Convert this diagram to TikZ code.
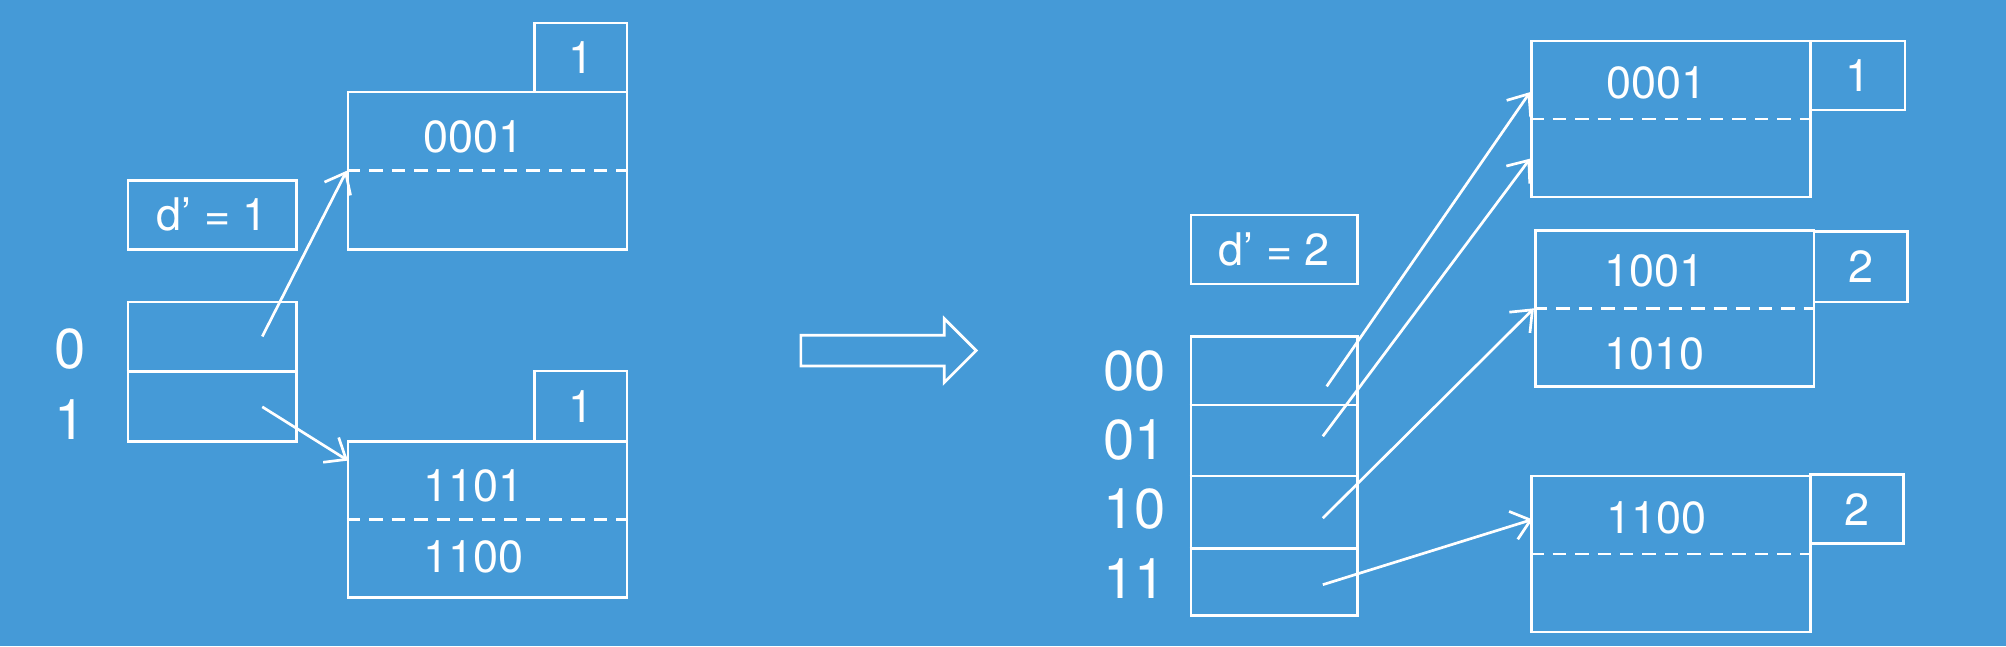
\documentclass[tikz,border=0pt]{standalone}
\usepackage{fontspec}
\setmainfont{TeX Gyre Heros}
\usetikzlibrary{arrows.meta,calc}
\definecolor{bg}{RGB}{69,154,215}
\begin{document}
\begin{tikzpicture}[x=0.02cm,y=-0.02cm,
  box/.style={draw=white, line width=1.2pt, inner sep=0pt, text=white, font=\fontsize{20}{24}\selectfont},
  txt/.style={text=white, inner sep=0pt, font=\fontsize{20}{24}\selectfont},
  big/.style={text=white, inner sep=0pt, font=\fontsize{25}{30}\selectfont},
  sep/.style={draw=white, line width=1.2pt},
  dsep/.style={draw=white, line width=1.2pt, dash pattern=on 6pt off 4pt},
  conn/.style={draw=white, line width=1.2pt, -{Straight Barb[length=8pt,width=13pt]}}]
\fill[bg] (0,0) rectangle (1568,505);
\useasboundingbox (0,0) rectangle (1568,505);

% ---------- left ----------
\node[box, minimum width=1.44cm, minimum height=1.08cm] (l1) at (454,45) {1};
\node[box, minimum width=4.36cm, minimum height=2.46cm] (b1) at (381,133.5) {};
\draw[dsep] (b1.west) -- (b1.east);
\node[txt] (t1) at (370,107) {0001};

\node[box, minimum width=2.64cm, minimum height=1.08cm] (d1) at (166,168) {d’ = 1};

\node[box, minimum width=2.64cm, minimum height=2.18cm] (dirL) at (166,290.5) {};
\draw[sep] (dirL.west) -- (dirL.east);
\node[big] (k0) at (55,273) {0};
\node[big] (k1) at (55,328) {1};

\node[box, minimum width=1.44cm, minimum height=1.1cm] (l2) at (454,317.5) {1};
\node[box, minimum width=4.36cm, minimum height=2.44cm] (b2) at (381,406) {};
\draw[dsep] (b2.west) -- (b2.east);
\node[txt] (t2) at (370,380) {1101};
\node[txt] (t3) at (370,435) {1100};

\coordinate (s0) at (205,263);
\coordinate (s1) at (205,318);
\coordinate (e1) at (272,360);
\draw[conn] (s0) -- (b1.west);
\draw[conn] (s1) -- (e1);

% ---------- big arrow ----------
\draw[white, line width=1.2pt, line join=miter]
  (626,262) -- (738,262) -- (738,249) -- (763,274) -- (738,299) -- (738,286) -- (626,286) -- cycle;

% ---------- right ----------
\node[box, minimum width=2.6cm, minimum height=1.08cm] (d2) at (996,195) {d’ = 2};

\node[box, minimum width=2.6cm, minimum height=4.36cm] (dirR) at (996,372) {};
\draw[sep] ($(dirR.north west)!0.248!(dirR.south west)$) -- ($(dirR.north east)!0.248!(dirR.south east)$);
\draw[sep] (dirR.west) -- (dirR.east);
\draw[sep] ($(dirR.north west)!0.757!(dirR.south west)$) -- ($(dirR.north east)!0.757!(dirR.south east)$);
\node[big] (k00) at (887,290) {00};
\node[big] (k01) at (887,344) {01};
\node[big] (k10) at (887,398) {10};
\node[big] (k11) at (887,452) {11};

\node[box, minimum width=4.36cm, minimum height=2.44cm] (A) at (1306,93) {};
\node[box, minimum width=1.48cm, minimum height=1.08cm] (la) at (1452,59) {1};
\draw[dsep] (A.west) -- (A.east);
\node[txt] (ta) at (1295,65) {0001};

\node[box, minimum width=4.36cm, minimum height=2.44cm] (B) at (1309,241) {};
\node[box, minimum width=1.46cm, minimum height=1.1cm] (lb) at (1454.5,208.5) {2};
\draw[dsep] (B.west) -- (B.east);
\node[txt] (tb1) at (1293,212) {1001};
\node[txt] (tb2) at (1293,277) {1010};

\node[box, minimum width=4.36cm, minimum height=2.44cm] (C) at (1306,433) {};
\node[box, minimum width=1.46cm, minimum height=1.08cm] (lc) at (1451.5,398) {2};
\draw[dsep] (C.west) -- (C.east);
\node[txt] (tc) at (1295,405) {1100};

\coordinate (r00) at (1037,302);
\coordinate (r01) at (1034,341);
\coordinate (r10) at (1034,405);
\coordinate (r11) at (1034,457);
\coordinate (ea1) at (1196,72);
\coordinate (ea2) at (1196,124);
\coordinate (ec) at (1198,406);
\draw[conn] (r00) -- (ea1);
\draw[conn] (r01) -- (ea2);
\draw[conn] (r10) -- (B.west);
\draw[conn] (r11) -- (ec);
\end{tikzpicture}
\end{document}
